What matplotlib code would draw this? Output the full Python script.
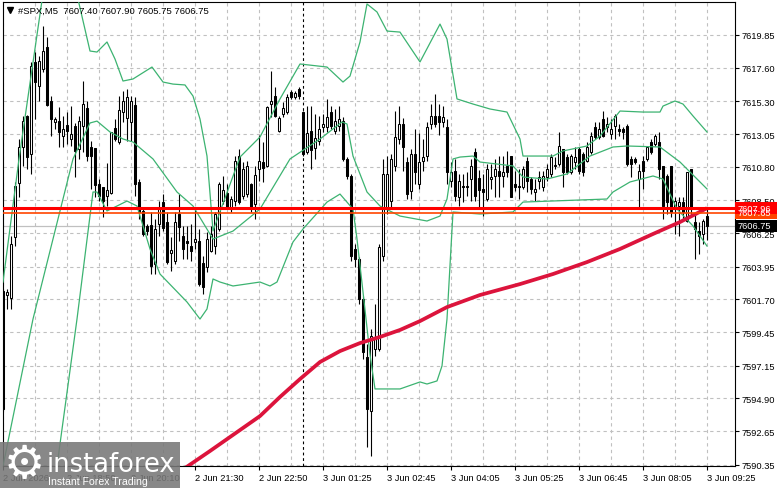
import matplotlib
matplotlib.use("Agg")
import matplotlib.pyplot as plt
import matplotlib.transforms as mtransforms
from matplotlib.patches import Rectangle
from matplotlib.lines import Line2D
import numpy as np

plt.rcParams['font.family'] = ['Liberation Sans', 'DejaVu Sans']

# ---------------- data ----------------
symbol = "#SPX,M5"
last_ohlc = [7607.40, 7607.90, 7605.75, 7606.75]

opens = [
 7602.27, 7602.00, 7601.79, 7605.98, 7609.69, 7612.16, 7614.29, 7611.68, 7618.00, 7616.35,
 7617.51, 7619.02, 7615.32, 7613.88, 7613.94, 7612.91, 7613.67, 7612.71, 7613.60, 7612.02,
 7613.60, 7614.84, 7612.16, 7612.09, 7609.62, 7609.41, 7608.80, 7609.00, 7613.46, 7612.50,
 7614.56, 7614.15, 7613.88, 7615.04, 7609.76, 7607.77, 7606.74, 7606.80, 7604.13, 7606.87,
 7608.38, 7607.01, 7604.88, 7604.33, 7607.56, 7606.05, 7605.71, 7605.36, 7605.64, 7605.71,
 7604.20, 7603.92, 7605.02, 7605.36, 7606.53, 7608.45, 7609.00, 7607.90, 7608.45, 7611.54,
 7608.80, 7608.93, 7609.62, 7608.25, 7610.65, 7611.13, 7610.86, 7615.11, 7615.66, 7613.26,
 7614.43, 7614.56, 7615.94, 7615.59, 7616.14, 7614.56, 7611.82, 7613.26, 7612.09, 7612.57,
 7613.53, 7613.53, 7614.56, 7613.26, 7613.60, 7613.94, 7611.34, 7610.17, 7605.16, 7604.47,
 7601.73, 7597.74, 7594.04, 7598.29, 7598.29, 7604.68, 7607.90, 7608.45, 7610.86, 7612.71,
 7613.74, 7611.13, 7609.14, 7611.68, 7609.62, 7611.20, 7611.54, 7613.74, 7614.29, 7614.29,
 7613.88, 7613.53, 7609.83, 7610.51, 7608.73, 7609.48, 7609.41, 7609.96, 7611.82, 7610.00,
 7609.28, 7608.59, 7609.96, 7610.17, 7610.51, 7610.17, 7610.86, 7611.54, 7609.62, 7609.48,
 7609.41, 7611.20, 7609.96, 7609.07, 7609.83, 7609.41, 7610.10, 7610.31, 7610.86, 7610.99,
 7612.02, 7611.47, 7610.44, 7611.13, 7612.02, 7611.68, 7611.20, 7611.82, 7613.53, 7612.85,
 7614.08, 7613.53, 7613.05, 7613.60, 7613.40, 7613.40, 7613.60, 7611.34, 7611.34, 7609.96,
 7611.20, 7611.34, 7612.50, 7612.37, 7612.50, 7610.86, 7610.17, 7610.86, 7607.90, 7608.11,
 7608.38, 7607.08, 7610.65, 7607.01, 7606.39, 7606.19, 7607.40]

highs = [
 7602.41, 7602.41, 7606.05, 7609.76, 7612.71, 7614.29, 7614.35, 7618.00, 7618.68, 7618.41,
 7620.47, 7619.71, 7615.66, 7614.22, 7614.91, 7614.29, 7614.56, 7614.97, 7613.81, 7614.29,
 7616.69, 7615.32, 7612.57, 7612.09, 7609.96, 7609.41, 7611.06, 7613.19, 7614.08, 7615.66,
 7616.00, 7616.14, 7615.66, 7615.59, 7609.96, 7607.90, 7606.87, 7607.70, 7607.22, 7608.45,
 7608.93, 7607.70, 7605.98, 7607.70, 7608.93, 7606.74, 7606.74, 7606.87, 7608.04, 7606.53,
 7604.68, 7606.32, 7606.74, 7607.70, 7609.76, 7610.17, 7609.62, 7608.80, 7611.54, 7612.02,
 7611.13, 7611.20, 7609.69, 7610.86, 7612.98, 7612.50, 7614.97, 7617.38, 7616.28, 7614.29,
 7615.25, 7615.80, 7616.10, 7616.00, 7616.28, 7614.63, 7614.97, 7614.97, 7614.43, 7614.29,
 7614.43, 7615.46, 7614.97, 7614.77, 7614.97, 7614.22, 7611.47, 7610.31, 7605.50, 7604.61,
 7601.90, 7598.64, 7599.67, 7601.38, 7605.50, 7611.34, 7611.54, 7611.68, 7614.63, 7614.97,
 7614.15, 7611.47, 7612.02, 7613.40, 7613.12, 7612.71, 7613.88, 7615.11, 7615.80, 7615.11,
 7614.97, 7614.08, 7611.13, 7611.34, 7610.31, 7610.31, 7610.44, 7611.34, 7612.09, 7610.60,
 7610.31, 7610.99, 7610.99, 7611.34, 7611.54, 7611.54, 7611.89, 7611.54, 7610.51, 7610.65,
 7610.86, 7611.47, 7610.10, 7609.96, 7610.51, 7610.51, 7610.99, 7611.68, 7611.47, 7613.19,
 7612.02, 7611.68, 7611.68, 7612.16, 7612.16, 7611.82, 7612.50, 7613.19, 7613.88, 7613.88,
 7614.63, 7614.22, 7614.08, 7614.43, 7613.74, 7613.53, 7613.74, 7611.54, 7611.47, 7610.99,
 7611.54, 7612.23, 7612.71, 7613.05, 7613.19, 7610.86, 7610.31, 7610.86, 7608.73, 7608.73,
 7608.73, 7610.44, 7610.65, 7607.70, 7607.01, 7607.22, 7607.90]

lows = [
 7594.04, 7601.04, 7601.04, 7605.36, 7608.73, 7610.86, 7610.65, 7610.31, 7614.08, 7615.32,
 7617.31, 7614.97, 7612.91, 7613.40, 7612.16, 7612.16, 7612.37, 7612.23, 7610.10, 7611.34,
 7611.82, 7611.20, 7609.28, 7608.73, 7608.45, 7607.35, 7608.11, 7608.93, 7612.57, 7612.37,
 7613.88, 7612.57, 7612.57, 7608.80, 7607.22, 7606.05, 7606.12, 7603.44, 7603.44, 7606.05,
 7606.39, 7604.13, 7603.65, 7604.13, 7605.71, 7604.47, 7604.47, 7604.33, 7605.16, 7602.62,
 7602.07, 7603.58, 7604.95, 7604.81, 7606.39, 7608.25, 7607.90, 7607.70, 7608.11, 7608.25,
 7608.59, 7608.73, 7607.70, 7607.22, 7609.83, 7609.76, 7610.79, 7614.22, 7614.22, 7613.19,
 7614.22, 7614.43, 7615.46, 7615.46, 7615.46, 7611.54, 7611.68, 7610.65, 7611.34, 7612.30,
 7613.19, 7613.19, 7613.40, 7613.05, 7613.26, 7611.20, 7609.96, 7604.33, 7603.92, 7601.38,
 7597.61, 7591.56, 7590.95, 7597.81, 7598.15, 7604.33, 7607.56, 7608.04, 7610.51, 7612.37,
 7610.51, 7608.59, 7608.59, 7609.62, 7609.28, 7610.51, 7611.20, 7613.40, 7613.53, 7612.98,
 7613.53, 7609.62, 7609.41, 7608.45, 7608.11, 7608.38, 7608.80, 7608.45, 7608.45, 7607.90,
 7607.42, 7608.45, 7609.28, 7608.73, 7608.73, 7609.41, 7610.10, 7608.73, 7609.14, 7608.59,
 7609.28, 7609.07, 7608.93, 7608.45, 7609.28, 7609.14, 7609.83, 7610.10, 7610.65, 7610.86,
 7609.41, 7610.31, 7610.31, 7610.65, 7610.31, 7610.17, 7611.13, 7611.68, 7612.71, 7612.71,
 7612.85, 7613.19, 7612.71, 7612.71, 7612.91, 7612.71, 7610.86, 7610.10, 7610.99, 7608.04,
 7609.28, 7611.20, 7611.68, 7612.23, 7609.96, 7607.22, 7607.56, 7607.35, 7606.19, 7606.05,
 7607.22, 7607.01, 7607.42, 7604.47, 7604.81, 7605.50, 7605.75]

closes = [
 7594.17, 7602.21, 7605.50, 7609.48, 7612.16, 7613.94, 7611.47, 7617.72, 7616.62, 7618.06,
 7618.75, 7615.04, 7614.08, 7614.08, 7613.19, 7613.40, 7613.26, 7613.05, 7611.89, 7613.94,
 7615.11, 7611.54, 7611.54, 7609.55, 7608.80, 7608.45, 7609.21, 7613.19, 7612.71, 7614.70,
 7615.32, 7615.59, 7615.32, 7609.62, 7607.70, 7606.19, 7606.39, 7603.99, 7606.53, 7607.97,
 7606.60, 7604.26, 7605.09, 7607.01, 7606.67, 7605.16, 7605.57, 7605.02, 7605.84, 7602.75,
 7602.55, 7605.84, 7606.19, 7607.56, 7609.62, 7609.21, 7608.04, 7608.59, 7611.20, 7608.38,
 7610.65, 7610.86, 7608.04, 7610.24, 7611.20, 7610.72, 7614.91, 7615.32, 7614.29, 7614.15,
 7614.84, 7615.59, 7615.59, 7615.87, 7615.66, 7611.68, 7613.12, 7611.95, 7612.78, 7613.40,
 7613.74, 7614.22, 7613.60, 7613.94, 7614.08, 7611.34, 7610.17, 7604.68, 7604.47, 7601.73,
 7598.09, 7594.17, 7599.19, 7598.98, 7605.29, 7610.31, 7610.31, 7611.34, 7612.85, 7613.74,
 7612.16, 7608.93, 7611.68, 7610.44, 7611.13, 7611.47, 7613.53, 7614.29, 7613.74, 7613.88,
 7614.22, 7610.44, 7610.44, 7608.80, 7609.83, 7609.41, 7609.48, 7610.86, 7608.80, 7609.20,
 7609.07, 7610.65, 7610.10, 7610.65, 7610.17, 7610.44, 7610.44, 7608.73, 7609.41, 7609.41,
 7610.65, 7609.83, 7609.28, 7609.28, 7610.10, 7610.17, 7610.65, 7611.47, 7610.93, 7612.23,
 7610.44, 7610.44, 7611.54, 7611.47, 7610.51, 7610.44, 7612.16, 7612.91, 7612.85, 7613.40,
 7612.91, 7613.74, 7613.40, 7614.29, 7613.26, 7613.19, 7610.99, 7610.99, 7611.13, 7610.51,
 7610.51, 7612.16, 7611.82, 7612.91, 7610.65, 7608.11, 7608.38, 7607.70, 7608.45, 7608.38,
 7607.70, 7610.44, 7607.90, 7606.53, 7606.05, 7607.08, 7606.75]

# Bollinger bands (upper / middle / lower), read at bar positions
bb_upper_bar = [0, 4, 10, 14, 18, 21.75, 23.5, 26, 28, 30, 32.5, 37.25, 40, 42.5, 45.5, 47.5,
                49.25, 51, 52.5, 59.25, 64.25, 69.25, 74.25, 81, 85, 86.75, 89.25, 91, 93.5,
                96, 99.25, 104.25, 109.25, 111, 113.5, 117.5, 121.75, 126, 129.25, 130, 137.5,
                140, 146, 149.25, 154.25, 160, 164.25, 165, 168, 170, 172.5, 176]
bb_upper = [7602.89, 7611.34, 7622.70, 7626.00, 7623.20, 7618.75, 7618.68, 7619.37, 7618.20,
            7616.69, 7616.83, 7617.65, 7616.62, 7616.48, 7616.42, 7615.66, 7614.08, 7611.54,
            7606.40, 7611.47, 7612.85, 7615.46, 7617.86, 7617.65, 7616.62, 7617.03, 7619.37,
            7621.98, 7621.43, 7620.12, 7620.05, 7618.00, 7620.60, 7619.57, 7615.46, 7615.11,
            7614.77, 7614.56, 7612.71, 7611.54, 7611.54, 7611.89, 7612.23, 7612.91, 7614.63,
            7614.56, 7614.56, 7614.97, 7615.32, 7615.11, 7614.29, 7613.19]

bb_middle_bar = [0, 7.5, 17.5, 21.75, 23.5, 26.75, 30, 32.5, 37.5, 43.5, 47.5, 52.5, 57.5, 64.25,
                 71.75, 79.25, 84.75, 86, 87.5, 91, 94.25, 99.25, 106, 109.25, 111, 112.5,
                 114.25, 117.5, 119.25, 127.5, 130, 136, 141, 146.75, 152.5, 156, 164.25,
                 169.25, 176]
bb_middle = [7590.26, 7600.35, 7611.34, 7613.81, 7613.94, 7613.19, 7612.71, 7612.50, 7611.34,
             7609.07, 7608.11, 7605.84, 7606.39, 7607.90, 7611.34, 7612.71, 7613.88, 7613.74,
             7611.54, 7609.07, 7608.11, 7607.42, 7607.08, 7607.42, 7608.59, 7611.34, 7611.47,
             7611.54, 7611.13, 7610.86, 7610.10, 7609.96, 7610.31, 7611.54, 7612.16, 7612.23,
             7612.16, 7611.13, 7609.28]

bb_lower_bar = [13.5, 18.5, 22.5, 23.5, 26, 31, 33.5, 36.75, 39.25, 46, 49.25, 51, 52.5, 54.25,
                57.5, 64.25, 66.75, 68.5, 72.5, 75, 81, 84.25, 87.5, 88.5, 90, 91.75, 93, 99.25,
                104.25, 106, 108.5, 109.75, 111, 112.5, 119.25, 127.5, 130, 151, 152.5, 156.75,
                162.5, 165, 168.5, 172.5, 176]
bb_lower = [7590.26, 7600.35, 7609.07, 7609.07, 7607.77, 7608.45, 7608.11, 7605.16, 7603.44,
            7601.52, 7600.35, 7601.04, 7603.10, 7602.89, 7602.62, 7602.89, 7602.62, 7602.89,
            7605.64, 7606.53, 7608.38, 7608.93, 7607.90, 7605.84, 7602.21, 7597.90, 7595.55,
            7595.55, 7596.03, 7595.89, 7596.10, 7597.13, 7600.35, 7607.70, 7607.56, 7607.70,
            7608.38, 7608.59, 7609.07, 7609.76, 7610.17, 7609.96, 7607.90, 7606.74, 7605.36]

# slow moving average (red)
ma_bar = [42, 46.25, 51.75, 56.75, 64.25, 69.25, 74.25, 79.25, 84.25, 89.25, 94.25, 99.25,
          104.25, 111, 119.25, 129.25, 137.5, 146, 154.25, 162.5, 169.25, 176]
ma_val = [7589.44, 7590.26, 7591.29, 7592.25, 7593.69, 7595.00, 7596.23, 7597.40, 7598.15,
          7598.70, 7599.12, 7599.60, 7600.21, 7601.17, 7602.00, 7602.75, 7603.44, 7604.26,
          7605.16, 7606.19, 7607.01, 7607.96]

level_ma = 7607.96
level_2 = 7607.65
bid = 7606.75

x_tick_bars = [0, 16, 32, 48, 64, 80, 96, 112, 128, 144, 160, 176]
x_tick_labels = ["2 Jun 2026", "2 Jun 18:50", "2 Jun 20:10", "2 Jun 21:30", "2 Jun 22:50",
                 "3 Jun 01:25", "3 Jun 02:45", "3 Jun 04:05", "3 Jun 05:25", "3 Jun 06:45",
                 "3 Jun 08:05", "3 Jun 09:25"]
y_ticks = [7619.85, 7617.60, 7615.30, 7613.05, 7610.80, 7608.50, 7606.25, 7603.95,
           7601.70, 7599.45, 7597.15, 7594.90, 7592.65, 7590.35]
day_separator_bar = 75

# ---------------- figure ----------------
W, H = 781, 489
fig = plt.figure(figsize=(W / 100, H / 100), dpi=100)
fig.patch.set_facecolor('white')
ax = fig.add_axes([2.5 / W, 1 - 466.5 / H, (734.5 - 2.5) / W, (466.5 - 3) / H])
ax.set_facecolor('white')
ax.set_xlim(-0.125, 182.875)
ax.set_ylim(7590.295, 7622.115)

grid_color = '#c0c0c0'
ax.set_yticks(y_ticks)
ax.set_yticklabels([f"{v:.2f}" for v in y_ticks])
ax.yaxis.tick_right()
ax.set_xticks(x_tick_bars)
ax.set_xticklabels(x_tick_labels, ha='left')
ax.set_xticks([b + 8 for b in x_tick_bars[:-1]], minor=True)
ax.tick_params(axis='y', which='major', length=3, width=0.8, pad=2, labelsize=6.7, colors='black')
ax.tick_params(axis='x', which='major', length=3, width=0.8, pad=2.5, labelsize=6.7, colors='black')
ax.tick_params(axis='x', which='minor', length=0)
ax.grid(True, which='both', color=grid_color, linewidth=0.8, linestyle=(0, (3, 3)))
ax.set_axisbelow(True)
for s in ax.spines.values():
    s.set_color('black')
    s.set_linewidth(0.8)

ax.axvline(day_separator_bar, color='black', lw=0.8, ls=(0, (2.5, 2.5)), zorder=1)
ax.axhline(bid, color='#c0c0c0', lw=0.9, zorder=1.5)

# candles
o = np.array(opens); h = np.array(highs); l = np.array(lows); c = np.array(closes)
xs = np.arange(len(o))
up = c >= o
ax.vlines(xs, l, h, color='black', lw=0.8, zorder=3)
bottom = np.minimum(o, c)
height = np.maximum(np.abs(c - o), 0.03)
ax.bar(xs[up], height[up], bottom=bottom[up], width=0.55, facecolor='white',
       edgecolor='black', linewidth=0.75, zorder=3.5)
ax.bar(xs[~up], height[~up], bottom=bottom[~up], width=0.55, facecolor='black',
       edgecolor='black', linewidth=0.75, zorder=3.5)

# indicators
bb_col = '#3cb371'
ax.plot(bb_upper_bar, bb_upper, color=bb_col, lw=0.9, zorder=4)
ax.plot(bb_middle_bar, bb_middle, color=bb_col, lw=0.9, zorder=4)
ax.plot(bb_lower_bar, bb_lower, color=bb_col, lw=0.9, zorder=4)
ax.plot(ma_bar, ma_val, color='#dc143c', lw=2.7, zorder=5, solid_capstyle='butt',
        solid_joinstyle='round')

ax.axhline(level_2, color='#ff4500', lw=1.2, zorder=5.5)
ax.axhline(level_ma, color='#ff0000', lw=2.2, zorder=6)

# price boxes on the right axis
trans = mtransforms.blended_transform_factory(fig.transFigure, ax.transData)
box_h = 12 / 14.566
for val, fc in [(level_2, '#ff4500'), (level_ma, '#ff0000'), (bid, '#000000')]:
    fig.add_artist(Rectangle((735 / W, val - box_h / 2), 42 / W, box_h, transform=trans,
                             facecolor=fc, edgecolor='none', zorder=10))
    fig.text(738 / W, val, f"{val:.2f}", transform=trans, color='white', fontsize=6.7,
             va='center', ha='left', zorder=11)

# title
fig.add_artist(Line2D([10 / W], [1 - 11 / H], marker='v', markersize=4.2, color='black',
                      transform=fig.transFigure))
fig.text(18 / W, 1 - 11 / H,
         f"{symbol}  " + " ".join(f"{v:.2f}" for v in last_ohlc),
         fontsize=6.8, va='center', ha='left', color='black')

# watermark
fig.add_artist(Rectangle((0, 0), 180 / W, 46 / H, transform=fig.transFigure,
                         facecolor='#787878', edgecolor='none', alpha=0.88, zorder=20))
fig.text(24 / W, 1 - 466 / H, '\u2699', fontsize=33, color='white', ha='center',
         va='center', family='DejaVu Sans', zorder=21)
fig.text(47 / W, 1 - 472 / H, 'instaforex', fontsize=18.5, color='white', ha='left',
         va='baseline', family='DejaVu Sans', zorder=21)
fig.text(48 / W, 1 - 485 / H, 'Instant Forex Trading', fontsize=7.6, color='white',
         ha='left', va='baseline', zorder=21)

fig.savefig('out.png', dpi=100, facecolor='white')
